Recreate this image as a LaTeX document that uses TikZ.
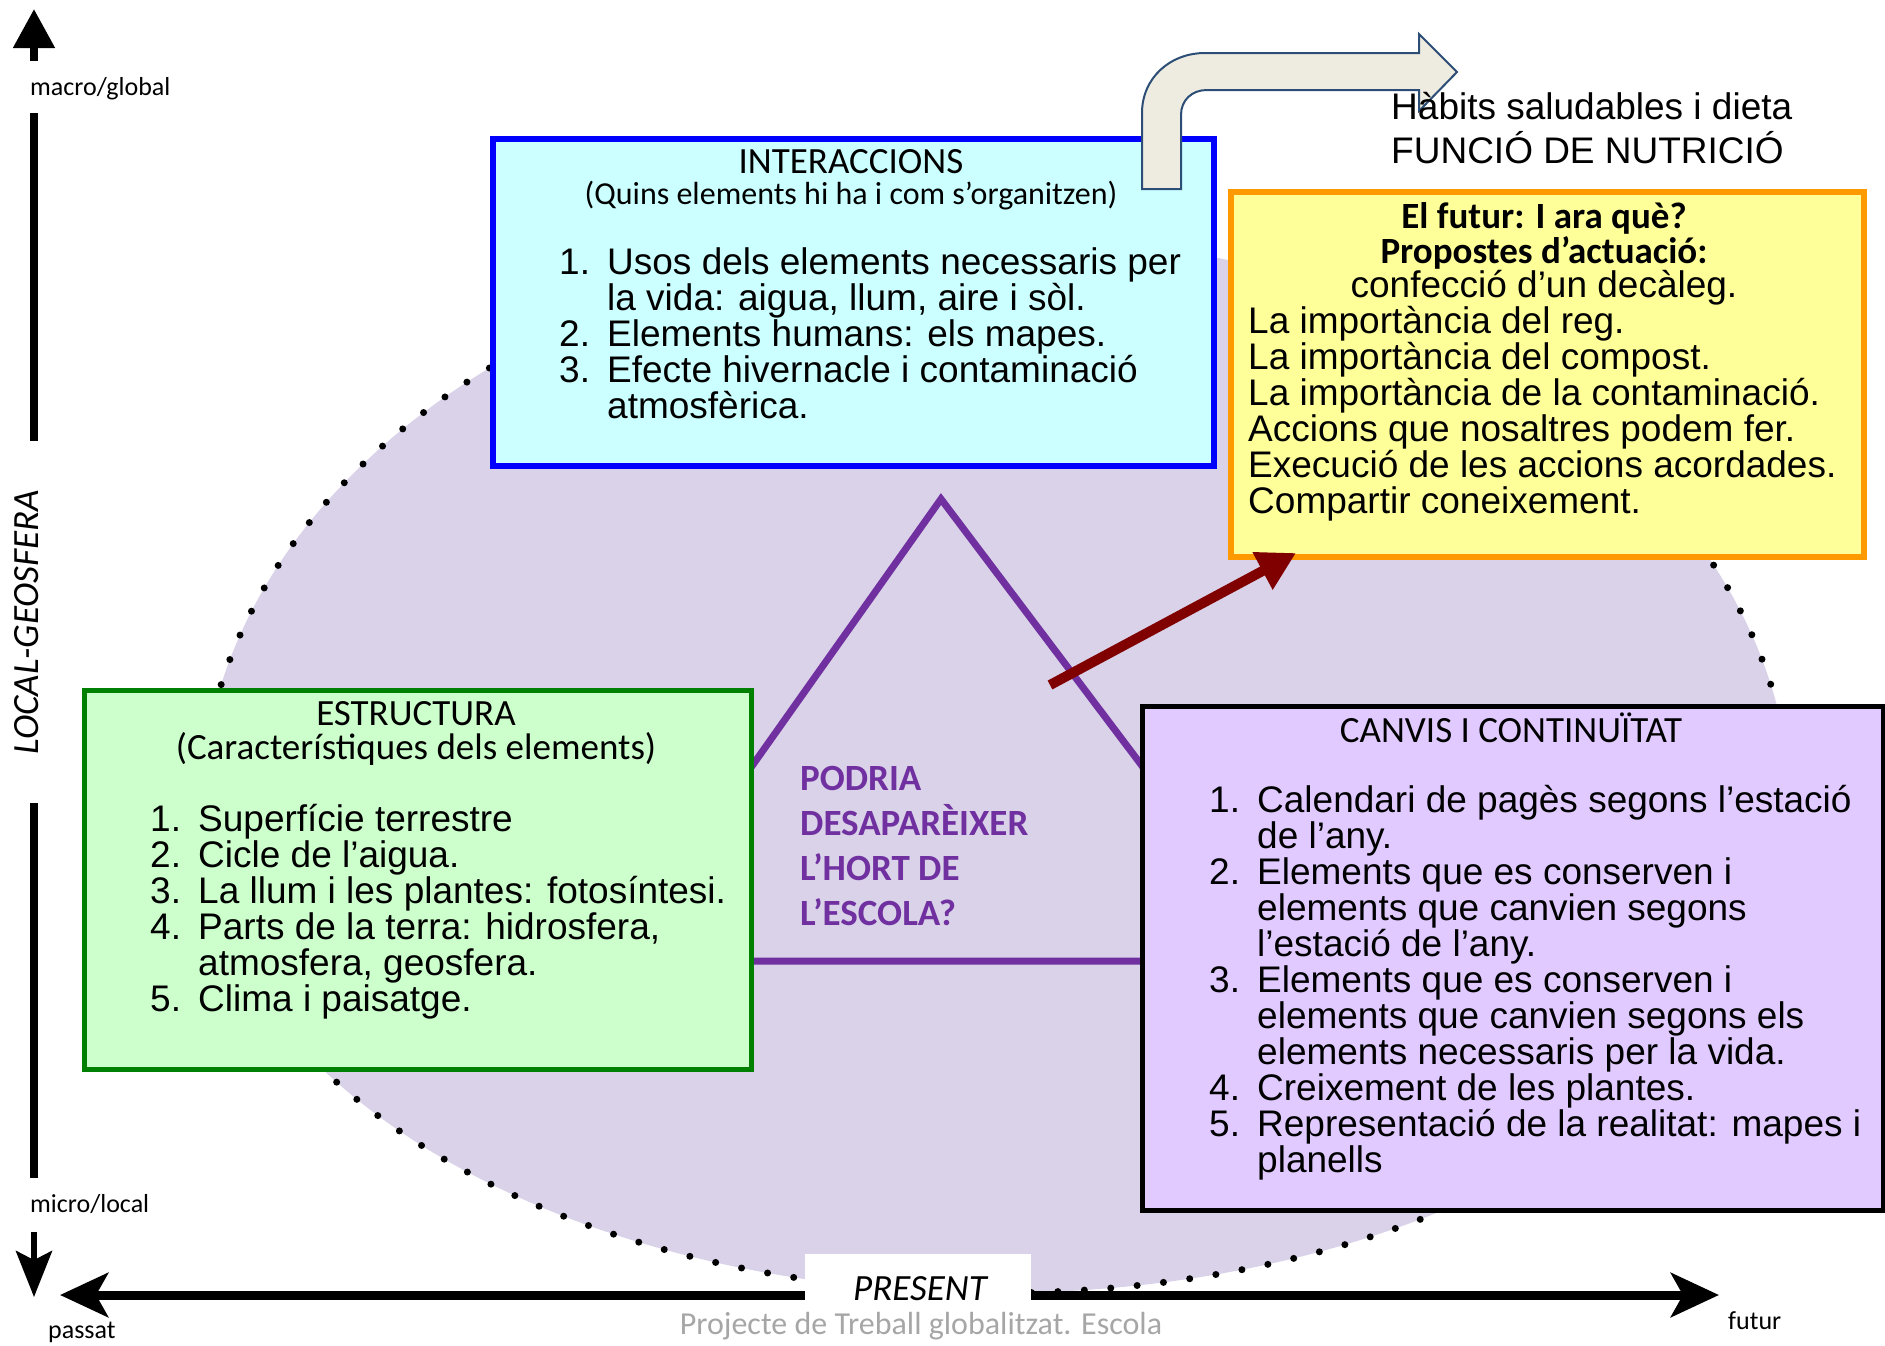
\documentclass[tikz,border=0pt]{standalone}
\usepackage{fontspec}
\setmainfont{Liberation Sans}
\newfontfamily\calibri{Carlito}
\usetikzlibrary{arrows.meta}
\definecolor{lav}{HTML}{D9D2E9}
\definecolor{cyanfill}{HTML}{CCFFFF}
\definecolor{boxblue}{HTML}{0000FF}
\definecolor{greenfill}{HTML}{CCFFCC}
\definecolor{greenline}{HTML}{008000}
\definecolor{canvfill}{HTML}{E1CAFF}
\definecolor{yelfill}{HTML}{FFFF99}
\definecolor{orangeline}{HTML}{FF9900}
\definecolor{purp}{HTML}{7030A0}
\definecolor{maroon}{HTML}{800000}
\definecolor{beige}{HTML}{EEECE1}
\definecolor{arrowblue}{HTML}{2C4D75}
\definecolor{footgray}{HTML}{A6A6A6}
\newcommand\itm[1]{\leavevmode\llap{\makebox[48pt][l]{#1}}}
\newcommand\arialbody{\fontsize{37}{36}\selectfont}
\tikzset{
  panel/.style={draw, line width=#1, inner sep=0pt, anchor=north west},
  panel/.default=5pt,
  txt/.style={inner sep=0pt},
  head/.style={inner sep=0pt, anchor=base, font={\calibri\fontsize{37}{35}\selectfont}},
  small/.style={inner sep=0pt, anchor=base west, font={\calibri\fontsize{26}{30}\selectfont}},
  axisline/.style={line width=8pt},
}
\begin{document}
\begin{tikzpicture}[x=1pt,y=-1pt]
\useasboundingbox (0,0) rectangle (1885,1345);

% egg-shaped background
\path[fill=lav, draw=black, line width=7pt, dash pattern=on 0pt off 26.5pt, line cap=round]
  (201,815) arc[start angle=180, end angle=360, x radius=795, y radius=580]
  arc[start angle=0, end angle=180, x radius=795, y radius=478] -- cycle;

% triangle
\coordinate (tA) at (941,499);
\coordinate (tB) at (614,961);
\coordinate (tC) at (1289,961);
\draw[purp, line width=7pt, line join=miter] (tA) -- (tB) -- (tC) -- cycle;

% vertical axis
\coordinate (vt0) at (34,61);
\coordinate (vt1) at (34,9);
\draw[axisline, -{Triangle[length=39pt,width=40pt]}] (vt0) -- (vt1);
\coordinate (vu0) at (34,113);
\coordinate (vu1) at (34,441);
\draw[axisline] (vu0) -- (vu1);
\coordinate (vl0) at (34,803);
\coordinate (vl1) at (34,1178);
\draw[axisline] (vl0) -- (vl1);
\coordinate (vd0) at (34,1232);
\coordinate (vd1) at (34,1297);
\draw[line width=6pt, -{Stealth[length=46pt,width=36pt,inset=9pt]}] (vd0) -- (vd1);

% horizontal axis
\coordinate (hl) at (60,1295);
\coordinate (hr) at (1719,1295);
\draw[line width=9pt, {Stealth[length=48pt,width=44pt,inset=12pt]}-{Stealth[length=48pt,width=44pt,inset=12pt]}] (hl) -- (hr);

\node[fill=white, minimum width=226pt, minimum height=56pt, inner sep=0pt, anchor=north west] (presbox) at (805,1254) {};
\node[txt, anchor=base, font={\calibri\itshape\fontsize{37}{40}\selectfont}] (present) at (920,1300) {PRESENT};
\node[txt, anchor=base, text=footgray, font={\calibri\fontsize{32}{36}\selectfont}] (foot) at (921,1334) {Projecte de Treball globalitzat. Escola};

\node[small] (macro) at (30,95) {macro/global};
\node[small] (micro) at (30,1212) {micro/local};
\node[small] (passat) at (48,1338) {passat};
\node[small] (futur) at (1728,1329) {futur};
\node[txt, rotate=90, font={\calibri\itshape\fontsize{37}{40}\selectfont}] (local) at (27,622) {LOCAL-GEOSFERA};

% INTERACCIONS
\node[panel=6pt, draw=boxblue, fill=cyanfill, minimum width=721pt, minimum height=327pt] (inter) at (490,136) {};
\node[head] (interh) at (851,173) {INTERACCIONS};
\node[head, font={\calibri\fontsize{32}{35}\selectfont}] (inters) at (851,204) {(Quins elements hi ha i com s’organitzen)};
\node[txt, anchor=base west] (interl) at (607,274) {\begin{minipage}[t]{590pt}\arialbody\raggedright
\itm{1.}Usos dels elements necessaris per\\
la vida: aigua, llum, aire i sòl.\\
\itm{2.}Elements humans: els mapes.\\
\itm{3.}Efecte hivernacle i contaminació\\
atmosfèrica.\end{minipage}};

% bent arrow
\draw[fill=beige, draw=arrowblue, line width=2pt] (1142,189) -- (1142,113)
  .. controls (1142,78) and (1170,53) .. (1205,53) -- (1419,53) -- (1419,34)
  -- (1457,72) -- (1419,111) -- (1419,90) -- (1207,90)
  .. controls (1192,90) and (1181,100) .. (1181,115) -- (1181,189) -- cycle;
\node[txt, anchor=base west, font=\arialbody] (habits) at (1391,119) {Hàbits saludables i dieta};
\node[txt, anchor=base west, font=\arialbody] (funcio) at (1391,163) {FUNCIÓ DE NUTRICIÓ};

% ESTRUCTURA
\node[panel=5pt, draw=greenline, fill=greenfill, minimum width=667pt, minimum height=379pt] (estr) at (82,688) {};
\node[head] (estrh) at (416,725) {ESTRUCTURA};
\node[head] (estrs) at (416,759) {(Característiques dels elements)};
\node[txt, anchor=base west] (estrl) at (198,831) {\begin{minipage}[t]{540pt}\arialbody\raggedright
\itm{1.}Superfície terrestre\\
\itm{2.}Cicle de l’aigua.\\
\itm{3.}La llum i les plantes: fotosíntesi.\\
\itm{4.}Parts de la terra: hidrosfera,\\
atmosfera, geosfera.\\
\itm{5.}Clima i paisatge.\end{minipage}};

% CANVIS I CONTINUITAT
\node[panel=5pt, draw=black, fill=canvfill, minimum width=741pt, minimum height=504pt] (canv) at (1140,704) {};
\node[head] (canvh) at (1511,742) {CANVIS I CONTINUÏTAT};
\node[txt, anchor=base west] (canvl) at (1257,812) {\begin{minipage}[t]{615pt}\arialbody\raggedright
\itm{1.}Calendari de pagès segons l’estació\\
de l’any.\\
\itm{2.}Elements que es conserven i\\
elements que canvien segons\\
l’estació de l’any.\\
\itm{3.}Elements que es conserven i\\
elements que canvien segons els\\
elements necessaris per la vida.\\
\itm{4.}Creixement de les plantes.\\
\itm{5.}Representació de la realitat: mapes i\\
planells\end{minipage}};

% FUTUR
\node[panel=6pt, draw=orangeline, fill=yelfill, minimum width=633pt, minimum height=365pt] (fut) at (1228,189) {};
\node[head, font={\calibri\bfseries\fontsize{37}{35}\selectfont}] (futh1) at (1544,228) {El futur: I ara què?};
\node[head, font={\calibri\bfseries\fontsize{37}{35}\selectfont}] (futh2) at (1544,263) {Propostes d’actuació:};
\node[txt, anchor=base, font=\arialbody] (futc) at (1544,297) {confecció d’un decàleg.};
\node[txt, anchor=base west] (futl) at (1248,333) {\begin{minipage}[t]{595pt}\arialbody\raggedright
La importància del reg.\\
La importància del compost.\\
La importància de la contaminació.\\
Accions que nosaltres podem fer.\\
Execució de les accions acordades.\\
Compartir coneixement.\end{minipage}};

% question
\node[txt, anchor=base west, text=purp] (podria) at (800,790) {\begin{minipage}[t]{300pt}\calibri\bfseries\fontsize{37}{45}\selectfont
PODRIA\\DESAPARÈIXER\\L’HORT DE\\L’ESCOLA?\end{minipage}};

% red arrow
\coordinate (rtail) at (1050,685);
\coordinate (rtip) at (1296,553);
\draw[maroon, line width=10pt, -{Triangle[length=38pt,width=40pt]}] (rtail) -- (rtip);

\end{tikzpicture}
\end{document}
